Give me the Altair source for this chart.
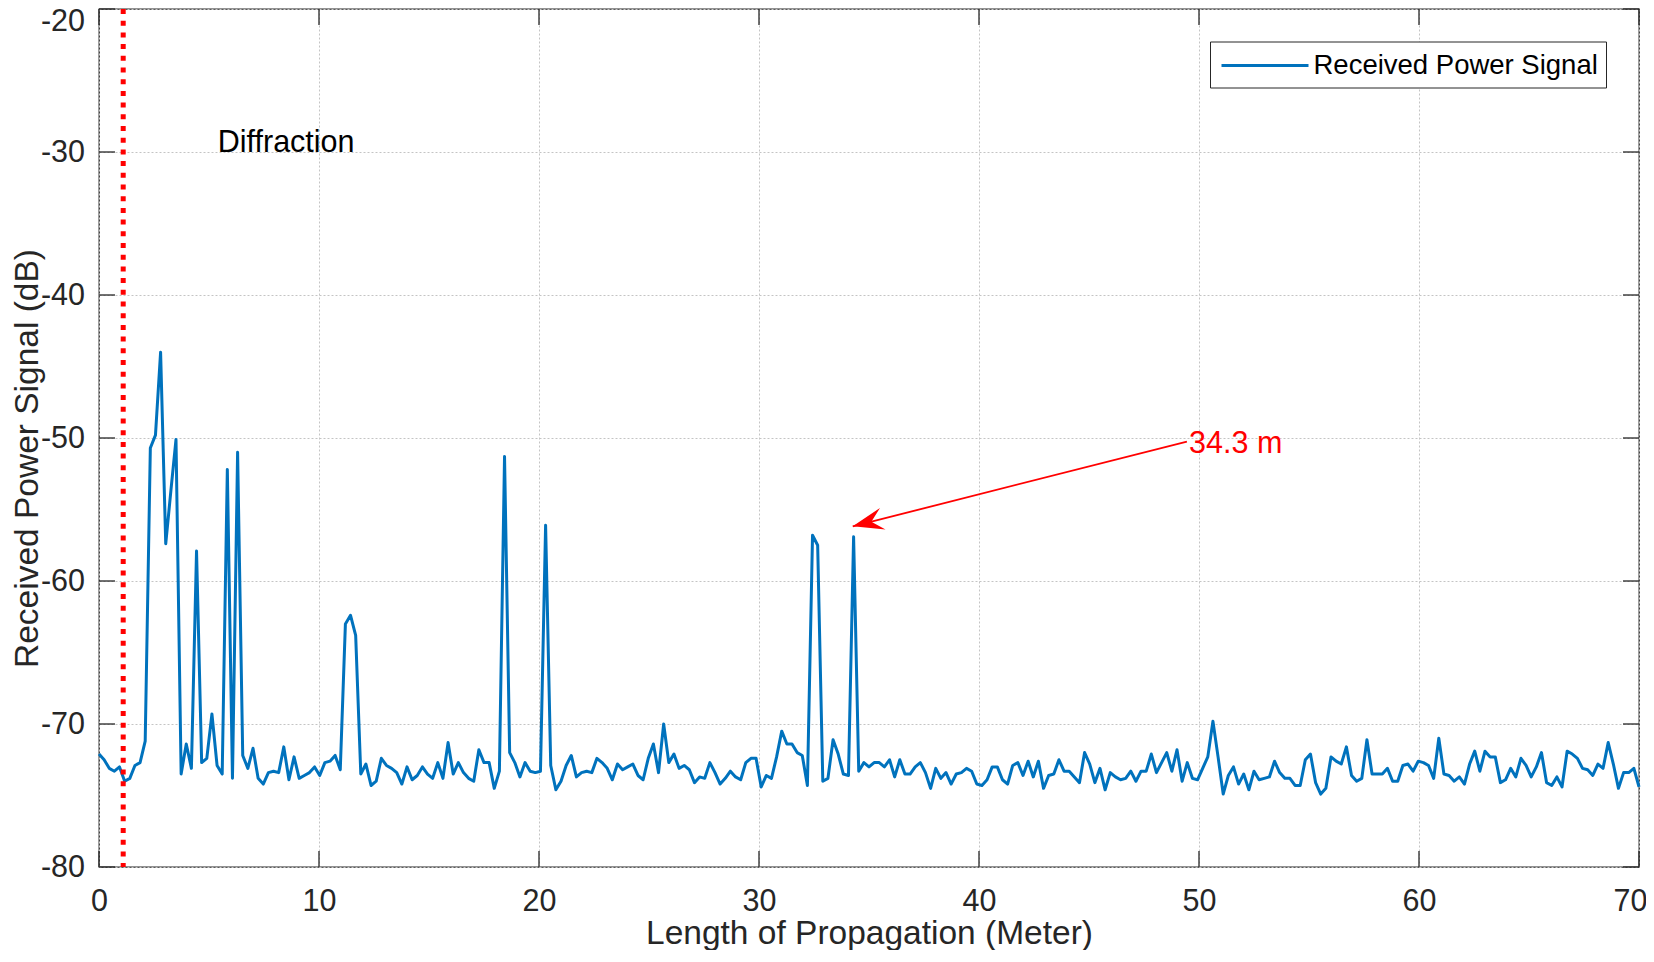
import math
import numpy as np
import pandas as pd
import altair as alt

# ---------------- data ----------------
X_MIN, X_MAX, N_SAMPLES = 0.0, 70.0, 301   # sampling grid of the propagation length (m)

POWER_DB = [
    -72.1, -72.5, -73.1, -73.3, -73.0, -74.0, -73.8, -72.9, -72.7, -71.2,
    -50.7, -49.8, -44.0, -57.4, -53.7, -50.1, -73.5, -71.4, -73.1, -57.9,
    -72.7, -72.4, -69.3, -72.9, -73.5, -52.2, -73.8, -51.0, -72.2, -73.1,
    -71.7, -73.8, -74.2, -73.4, -73.3, -73.4, -71.6, -73.9, -72.3, -73.8,
    -73.6, -73.4, -73.0, -73.6, -72.7, -72.6, -72.2, -73.2, -63.0, -62.4,
    -63.8, -73.5, -72.8, -74.3, -74.0, -72.4, -72.9, -73.1, -73.4, -74.2,
    -73.0, -73.9, -73.6, -73.0, -73.5, -73.8, -72.7, -73.8, -71.3, -73.5,
    -72.7, -73.4, -73.8, -74.0, -71.8, -72.7, -72.7, -74.5, -73.3, -51.3,
    -72.0, -72.7, -73.7, -72.7, -73.3, -73.4, -73.3, -56.1, -72.9, -74.6,
    -74.0, -72.9, -72.2, -73.7, -73.4, -73.3, -73.4, -72.4, -72.7, -73.1,
    -73.9, -72.8, -73.2, -73.0, -72.8, -73.6, -73.9, -72.4, -71.4, -73.4,
    -70.0, -72.7, -72.1, -73.1, -72.9, -73.2, -74.1, -73.7, -73.8, -72.7,
    -73.4, -74.2, -73.8, -73.3, -73.7, -73.9, -72.7, -72.4, -72.4, -74.4,
    -73.6, -73.8, -72.3, -70.5, -71.4, -71.4, -72.0, -72.2, -74.3, -56.8,
    -57.5, -74.0, -73.8, -71.1, -72.1, -73.5, -73.6, -56.9, -73.3, -72.7,
    -73.0, -72.7, -72.7, -73.0, -72.5, -73.7, -72.5, -73.5, -73.5, -73.0,
    -72.7, -73.4, -74.5, -73.1, -73.8, -73.4, -74.2, -73.5, -73.4, -73.1,
    -73.3, -74.2, -74.3, -73.9, -73.0, -73.0, -73.9, -74.2, -72.9, -72.7,
    -73.6, -72.6, -73.7, -72.6, -74.5, -73.6, -73.5, -72.5, -73.3, -73.3,
    -73.7, -74.1, -72.0, -72.8, -74.1, -73.1, -74.6, -73.4, -73.7, -73.9,
    -73.8, -73.3, -74.0, -73.3, -73.3, -72.1, -73.4, -72.7, -72.0, -73.3,
    -71.8, -74.0, -72.7, -73.8, -73.9, -73.1, -72.3, -69.8, -72.3, -74.9,
    -73.6, -73.0, -74.2, -73.5, -74.6, -73.3, -73.9, -73.8, -73.7, -72.6,
    -73.4, -73.8, -73.8, -74.3, -74.3, -72.5, -72.1, -74.1, -74.9, -74.5,
    -72.3, -72.6, -72.8, -71.6, -73.6, -74.0, -73.8, -71.1, -73.5, -73.5,
    -73.5, -73.1, -74.0, -74.0, -72.9, -72.8, -73.3, -72.6, -72.7, -72.9,
    -73.8, -71.0, -73.5, -73.6, -74.0, -73.7, -74.2, -72.8, -71.9, -73.3,
    -71.9, -72.3, -72.3, -74.1, -73.9, -73.1, -73.7, -72.4, -72.9, -73.7,
    -73.0, -72.0, -74.1, -74.3, -73.7, -74.4, -71.9, -72.1, -72.4, -73.1,
    -73.2, -73.6, -72.8, -73.1, -71.3, -72.8, -74.5, -73.4, -73.4, -73.1,
    -74.4,
]
SERIES_NAME = "Received Power Signal"

XTICKS = [0, 10, 20, 30, 40, 50, 60, 70]
YTICKS = [-80, -70, -60, -50, -40, -30, -20]
X_DOMAIN = [0, 70]
Y_DOMAIN = [-80, -20]

DIFFRACTION_X = [1.1]

LABEL_TEXT = ["Diffraction"]
LABEL_X = [5.4]
LABEL_Y = [-29.4]

ANNOT_TEXT = ["34.3 m"]
ANNOT_X = [49.55]
ANNOT_Y = [-50.4]

ARROW_FROM_X = [49.45]
ARROW_FROM_Y = [-50.25]
ARROW_TO_X = [34.26]
ARROW_TO_Y = [-56.18]

# ---------------- styling ----------------
W, H = 1540, 858
FONT = "Liberation Sans"
AXIS_COLOR = "#262626"
LINE_BLUE = "#0072BD"
RED = "#FF0000"
TICK_LEN = 16

xs = np.linspace(X_MIN, X_MAX, N_SAMPLES)
df = pd.DataFrame({"x": xs, "y": POWER_DB, "series": SERIES_NAME})

xscale = alt.Scale(domain=X_DOMAIN, nice=False, zero=False)
yscale = alt.Scale(domain=Y_DOMAIN, nice=False, zero=False)

x_axis = alt.Axis(
    values=XTICKS, grid=True, ticks=False, tickSize=0, domain=False,
    labelFlush=False, labelOverlap=False, labelBound=False,
    labelFont=FONT, labelFontSize=30.5, labelColor=AXIS_COLOR, labelPadding=19,
    labelExpr="'' + datum.value",
    labelOffset=alt.condition("datum.value == 70", alt.value(-9), alt.value(0)),
    title="Length of Propagation (Meter)", titleFont=FONT, titleFontSize=33.5,
    titleFontWeight="normal", titleColor=AXIS_COLOR,
    titleBaseline="alphabetic", titleY=76,
)
y_axis = alt.Axis(
    values=YTICKS, grid=True, ticks=False, tickSize=0, domain=False,
    labelFlush=False, labelOverlap=False, labelBound=False,
    labelFont=FONT, labelFontSize=30.5, labelColor=AXIS_COLOR, labelPadding=14.5,
    labelExpr="'' + datum.value",
    labelOffset=alt.condition("datum.value == -20", alt.value(12), alt.value(0)),
    title="Received Power Signal (dB)", titleFont=FONT, titleFontSize=33.5,
    titleFontWeight="normal", titleColor=AXIS_COLOR,
    titleAngle=270, titleBaseline="alphabetic", titleAlign="center",
    titleX=-62, titleY=H / 2 + 20,
)

line = alt.Chart(df).mark_line(strokeWidth=3, strokeJoin="round").encode(
    x=alt.X("x:Q", scale=xscale, axis=x_axis),
    y=alt.Y("y:Q", scale=yscale, axis=y_axis),
    color=alt.Color(
        "series:N",
        scale=alt.Scale(domain=[SERIES_NAME], range=[LINE_BLUE]),
        legend=alt.Legend(
            title=None, orient="none", legendX=1111, legendY=32.5,
            symbolType="M-3,0L3,0", symbolSize=841, symbolStrokeWidth=2.8,
            symbolOffset=31, labelOffset=32.5,
            labelFont=FONT, labelFontSize=27.5, labelColor="#000000", labelLimit=500,
            strokeColor=AXIS_COLOR, fillColor="#ffffff", padding=8,
        ),
    ),
)

diff_df = pd.DataFrame({"x": DIFFRACTION_X})
diff_rule = alt.Chart(diff_df).mark_rule(
    color=RED, strokeWidth=5, strokeDash=[5, 6.7], strokeCap="butt"
).encode(x=alt.X("x:Q", scale=xscale))

ytick_df = pd.DataFrame({"y": YTICKS})
xtick_df = pd.DataFrame({"x": XTICKS})
tick_style = dict(color=AXIS_COLOR, strokeWidth=1.3)
ticks_left = alt.Chart(ytick_df).mark_rule(**tick_style).encode(
    y=alt.Y("y:Q", scale=yscale), x=alt.value(0), x2=alt.value(TICK_LEN))
ticks_right = alt.Chart(ytick_df).mark_rule(**tick_style).encode(
    y=alt.Y("y:Q", scale=yscale), x=alt.value(W - TICK_LEN), x2=alt.value(W))
ticks_bottom = alt.Chart(xtick_df).mark_rule(**tick_style).encode(
    x=alt.X("x:Q", scale=xscale), y=alt.value(H - TICK_LEN), y2=alt.value(H))
ticks_top = alt.Chart(xtick_df).mark_rule(**tick_style).encode(
    x=alt.X("x:Q", scale=xscale), y=alt.value(0), y2=alt.value(TICK_LEN))

label_df = pd.DataFrame({"x": LABEL_X, "y": LABEL_Y, "t": LABEL_TEXT})
label = alt.Chart(label_df).mark_text(
    font=FONT, fontSize=30.5, color="#000000", align="left", baseline="middle"
).encode(x=alt.X("x:Q", scale=xscale), y=alt.Y("y:Q", scale=yscale), text="t:N")

annot_df = pd.DataFrame({"x": ANNOT_X, "y": ANNOT_Y, "t": ANNOT_TEXT})
annot = alt.Chart(annot_df).mark_text(
    font=FONT, fontSize=30.5, color=RED, align="left", baseline="middle"
).encode(x=alt.X("x:Q", scale=xscale), y=alt.Y("y:Q", scale=yscale), text="t:N")

arrow_df = pd.DataFrame({"x": ARROW_FROM_X, "y": ARROW_FROM_Y,
                         "x2": ARROW_TO_X, "y2": ARROW_TO_Y})
arrow_line = alt.Chart(arrow_df).mark_rule(color=RED, strokeWidth=1.8).encode(
    x=alt.X("x:Q", scale=xscale), y=alt.Y("y:Q", scale=yscale),
    x2="x2:Q", y2="y2:Q")

# screen-space direction of the arrow (pixels per unit from the plot size)
px_per_x = W / (X_DOMAIN[1] - X_DOMAIN[0])
px_per_y = H / (Y_DOMAIN[1] - Y_DOMAIN[0])
dx = (ARROW_TO_X[0] - ARROW_FROM_X[0]) * px_per_x
dy = -(ARROW_TO_Y[0] - ARROW_FROM_Y[0]) * px_per_y
arrow_angle = math.degrees(math.atan2(dy, dx)) % 360

head_df = pd.DataFrame({"x": ARROW_TO_X, "y": ARROW_TO_Y})
arrow_head = alt.Chart(head_df).mark_point(
    shape="M0,0L-1,-0.36L-0.62,0L-1,0.36Z", filled=True, size=3844,
    color=RED, opacity=1, strokeWidth=0, angle=arrow_angle,
).encode(x=alt.X("x:Q", scale=xscale), y=alt.Y("y:Q", scale=yscale))

chart = alt.layer(
    ticks_left, ticks_right, ticks_bottom, ticks_top,
    line, diff_rule, label, annot, arrow_line, arrow_head,
).properties(
    width=W, height=H,
    autosize=alt.AutoSizeParams(type="none"),
    padding={"left": 91, "top": 1, "right": 7, "bottom": 83},
    background="#ffffff",
).configure_view(
    stroke=AXIS_COLOR, strokeWidth=1.3,
).configure_axis(
    gridColor="#c4c4c4", gridDash=[2, 2], gridWidth=1, gridOpacity=1,
)

chart.save("out.html", embed_options={"renderer": "svg", "actions": False})
